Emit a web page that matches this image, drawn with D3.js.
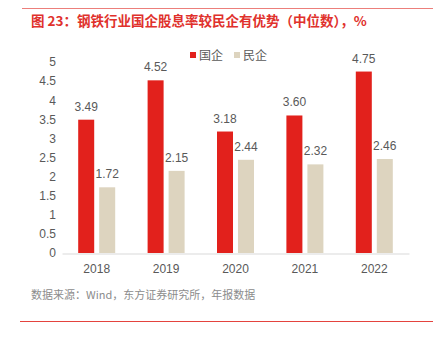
<!DOCTYPE html>
<html>
<head>
<meta charset="utf-8">
<script src="https://cdn.jsdelivr.net/npm/d3@7"></script>
<style>
  body { margin: 0; background: #fff; }
  svg { display: block; font-family: "Liberation Sans", Arial, "Noto Sans CJK SC", sans-serif; }
</style>
</head>
<body>
<svg id="chart"></svg>
<script>
// 数据
const years = ["2018", "2019", "2020", "2021", "2022"];
const soe = [3.49, 4.52, 3.18, 3.60, 4.75];      // 国企
const pvt = [1.72, 2.15, 2.44, 2.32, 2.46];      // 民企
const yTicks = [0, 0.5, 1, 1.5, 2, 2.5, 3, 3.5, 4, 4.5, 5];
const seriesNames = ["国企", "民企"];
const colors = ["#e2211c", "#ddd4bf"];

const W = 436, H = 341;
const svg = d3.select("#chart").attr("width", W).attr("height", H);

// 顶部和底部红线
svg.append("line").attr("x1", 22).attr("x2", 433).attr("y1", 8.5).attr("y2", 8.5)
    .attr("stroke", "#ec7f7b").attr("stroke-width", 1);
svg.append("line").attr("x1", 20).attr("x2", 433).attr("y1", 321.5).attr("y2", 321.5)
    .attr("stroke", "#e4433e").attr("stroke-width", 1);

// 标题
svg.append("text")
    .attr("x", 31).attr("y", 26)
    .attr("fill", "#e0312c")
    .style("font-family", "'Noto Sans CJK SC', sans-serif")
    .style("font-size", "13.5px")
    .style("font-weight", "bold")
    .text("图 23：钢铁行业国企股息率较民企有优势（中位数），%");

// 比例尺
const x = d3.scaleBand().domain(years).range([62, 409]);
const y = d3.scaleLinear().domain([0, 5]).range([253, 62]);
const barW = 16, gap = 5;

// Y轴
const yAxis = svg.append("g")
    .attr("transform", "translate(56,0)")
    .call(d3.axisLeft(y).tickValues(yTicks).tickSize(0).tickPadding(0).tickFormat(d => d));
yAxis.select(".domain").remove();
yAxis.selectAll("text").attr("fill", "#595959").style("font-size", "12px");

// X轴
const xAxis = svg.append("g")
    .attr("transform", "translate(0,253.5)")
    .call(d3.axisBottom(x).tickSize(0).tickPadding(11));
xAxis.select(".domain").attr("stroke", "#d9d9d9");
xAxis.selectAll("text").attr("fill", "#595959").style("font-size", "12px");

// 柱子
const groups = [soe, pvt];
groups.forEach((vals, si) => {
    const offset = si === 0 ? -barW - gap / 2 : gap / 2;
    svg.append("g").selectAll("rect")
        .data(vals)
        .join("rect")
        .attr("x", (d, i) => x(years[i]) + x.bandwidth() / 2 + offset)
        .attr("y", d => y(d))
        .attr("width", barW)
        .attr("height", d => y(0) - y(d))
        .attr("fill", colors[si]);

    svg.append("g").selectAll("text")
        .data(vals)
        .join("text")
        .attr("x", (d, i) => x(years[i]) + x.bandwidth() / 2 + offset + barW / 2)
        .attr("y", d => y(d) - 9)
        .attr("text-anchor", "middle")
        .attr("fill", "#595959")
        .style("font-size", "12px")
        .text(d => d.toFixed(2));
});

// 图例
const legend = svg.append("g").attr("transform", "translate(190,50)");
seriesNames.forEach((name, i) => {
    const lg = legend.append("g").attr("transform", `translate(${i * 44},0)`);
    lg.append("rect").attr("x", 0).attr("y", 2).attr("width", 6).attr("height", 6).attr("fill", colors[i]);
    lg.append("text").attr("x", 9).attr("y", 10)
        .attr("fill", "#595959")
        .style("font-family", "'Noto Sans CJK SC', sans-serif")
        .style("font-size", "12px")
        .text(name);
});

// 数据来源
svg.append("text")
    .attr("x", 31).attr("y", 299)
    .attr("fill", "#8c8c8c")
    .style("font-family", "'Noto Sans CJK SC', sans-serif")
    .style("font-size", "11px")
    .text("数据来源：Wind，东方证券研究所，年报数据");
</script>
</body>
</html>
